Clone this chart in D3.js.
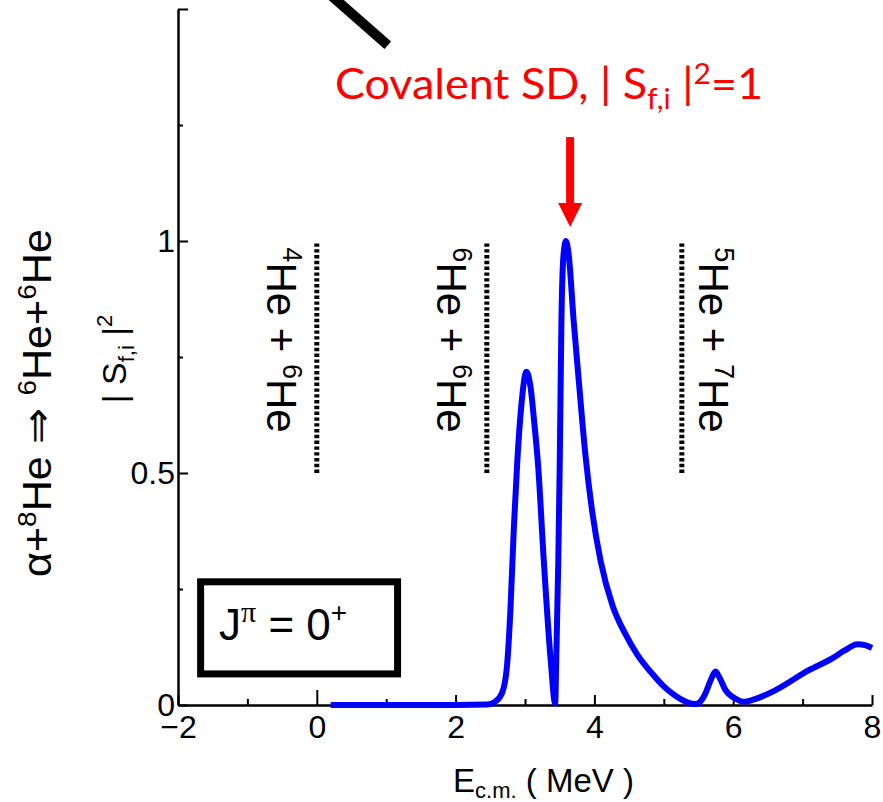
<!DOCTYPE html>
<html>
<head>
<meta charset="utf-8">
<script src="https://cdn.jsdelivr.net/npm/d3@7"></script>
<style>
  html, body { margin: 0; padding: 0; background: #fff; }
  svg { display: block; font-family: "Liberation Sans", Arial, sans-serif; }
</style>
</head>
<body>
<svg id="chart" width="883" height="802"></svg>
<script>
// ---------------- data ----------------
const energy = [0.2, 1.0, 2.0, 2.45, 2.57, 2.67, 2.74, 2.79, 2.84, 2.89, 2.95, 3.02, 3.08, 3.13, 3.19, 3.27, 3.37, 3.435,
  3.45, 3.48, 3.50, 3.525, 3.555, 3.59, 3.63, 3.70, 3.78, 3.87, 3.97, 4.09, 4.26, 4.45, 4.62, 4.83, 5.0, 5.12, 5.25, 5.35, 5.45,
  5.53, 5.60, 5.68, 5.745, 5.80, 5.89, 6.03, 6.15, 6.30, 6.61, 7.09, 7.42, 7.60, 7.79, 7.90, 8.0];
const sfi2 = [0, 0, 0, 0.001, 0.007, 0.026, 0.083, 0.205, 0.384, 0.528, 0.65, 0.718, 0.685, 0.614, 0.514, 0.313, 0.097, 0.003,
  0.097, 0.313, 0.514, 0.83, 0.97, 1.0, 0.97, 0.83, 0.69, 0.54, 0.415, 0.31, 0.215, 0.152, 0.108, 0.068, 0.040, 0.025, 0.012, 0.005, 0.002,
  0.008, 0.025, 0.055, 0.072, 0.06, 0.032, 0.014, 0.007, 0.012, 0.032, 0.075, 0.10, 0.117, 0.131, 0.129, 0.123];

const xMajorTicks = [-2, 0, 2, 4, 6, 8];
const xMinorTicks = [-1, 1, 3, 5, 7];
const yMajorTicks = [0, 0.5, 1, 1.5];
const yMinorTicks = [0.25, 0.75, 1.25];
const yTickLabels = ["0", "0.5", "1", ""];

// thresholds (MeV) with their channel labels
const thresholdE = [0, 2.45, 5.26];
const thresholdMass1 = ["4", "6", "5"];
const thresholdMass2 = ["6", "6", "7"];
const thresholdSide = [-1, -1, 1];
const thresholdRange = [0.5, 1.0];

// annotations in data coordinates
const arrowE = 3.65;
const arrowRange = [1.224, 1.03];
const pointerLine = [[0.115, 1.541], [1.023, 1.422]];
const jBox = [[-1.674, 0.2655], [1.164, 0.067]];

// ---------------- scales ----------------
const svg = d3.select("#chart");
const x = d3.scaleLinear().domain([-2, 8]).range([178, 872]);
const y = d3.scaleLinear().domain([0, 1.5]).range([705, 9]);

svg.append("rect").attr("width", 883).attr("height", 802).attr("fill", "#fff");

// ---------------- axes ----------------
const gx = svg.append("g").attr("transform", `translate(0,${y(0)})`);
gx.call(d3.axisBottom(x).tickValues(xMajorTicks).tickSizeInner(-10).tickSizeOuter(0).tickPadding(8)
  .tickFormat(d3.format("d")));
gx.append("g").call(d3.axisBottom(x).tickValues(xMinorTicks).tickSizeInner(-6).tickSizeOuter(0).tickFormat(""))
  .select(".domain").remove();
gx.selectAll(".tick").filter(d => d === 0).select("line").attr("y2", -15);

const gy = svg.append("g").attr("transform", `translate(${x(-2)},0)`);
gy.call(d3.axisLeft(y).tickValues(yMajorTicks).tickSizeInner(-10).tickSizeOuter(0).tickPadding(3)
  .tickFormat((d, i) => yTickLabels[i]));
gy.append("g").call(d3.axisLeft(y).tickValues(yMinorTicks).tickSizeInner(-5).tickSizeOuter(0).tickFormat(""))
  .select(".domain").remove();

svg.selectAll(".domain").attr("stroke", "#000").attr("stroke-width", 2.5);
svg.selectAll(".tick line").attr("stroke", "#000").attr("stroke-width", 2);
svg.selectAll(".tick text").attr("font-size", 32).attr("fill", "#000")
  .attr("font-family", "'Liberation Sans', Arial, sans-serif");
gx.selectAll(".tick text").attr("dy", "0.78em");
gy.selectAll(".tick text").attr("dy", "0.33em");

// ---------------- threshold lines ----------------
thresholdE.forEach((e, i) => {
  svg.append("line")
    .attr("x1", x(e)).attr("x2", x(e))
    .attr("y1", y(thresholdRange[0])).attr("y2", y(thresholdRange[1]))
    .attr("stroke", "#000").attr("stroke-width", 5).attr("stroke-dasharray", "3.4,2.4");
  const bx = thresholdSide[i] < 0 ? x(e) - 50 : x(e) + 17;
  const cy = 340;
  const t = svg.append("text")
    .attr("transform", `translate(${bx},${cy}) rotate(90)`)
    .attr("text-anchor", "middle").attr("font-size", 42).attr("fill", "#000");
  t.append("tspan").attr("font-size", 27).attr("dy", -16).text(thresholdMass1[i]);
  t.append("tspan").attr("dy", 16).text("He + ");
  t.append("tspan").attr("font-size", 27).attr("dy", -16).text(thresholdMass2[i]);
  t.append("tspan").attr("dy", 16).text("He");
});

// ---------------- curve ----------------
const pts = energy.map((e, i) => [e, sfi2[i]]);
svg.append("path")
  .datum(pts)
  .attr("fill", "none")
  .attr("stroke", "#0000ff")
  .attr("stroke-width", 6)
  .attr("stroke-linejoin", "round")
  .attr("d", d3.line().x(d => x(d[0])).y(d => y(d[1])).curve(d3.curveMonotoneX));

// ---------------- annotations ----------------
// black pointer line at top
svg.append("line")
  .attr("x1", x(pointerLine[0][0])).attr("y1", y(pointerLine[0][1]))
  .attr("x2", x(pointerLine[1][0])).attr("y2", y(pointerLine[1][1]))
  .attr("stroke", "#000").attr("stroke-width", 10);

// red arrow
const ax = x(arrowE);
const yTop = y(arrowRange[0]), yTip = y(arrowRange[1]);
svg.append("line").attr("x1", ax).attr("x2", ax).attr("y1", yTop).attr("y2", yTip - 20)
  .attr("stroke", "#ff0000").attr("stroke-width", 8);
svg.append("path")
  .attr("d", `M${ax - 12},${yTip - 24} L${ax + 12},${yTip - 24} L${ax},${yTip} Z`)
  .attr("fill", "#ff0000");

// red label
const red = svg.append("text")
  .attr("x", 335).attr("y", 99)
  .attr("font-family", "Lato, 'Open Sans', sans-serif")
  .attr("font-size", 42).attr("fill", "#ff0000")
  .attr("textLength", 428).attr("lengthAdjust", "spacingAndGlyphs");
red.append("tspan").text("Covalent SD, | S");
red.append("tspan").attr("font-size", 28).attr("dy", 10).text("f,i");
red.append("tspan").attr("dy", -10).text(" |");
red.append("tspan").attr("font-size", 28).attr("dy", -15).text("2");
red.append("tspan").attr("dy", 15).text("=1");

// J^pi box
svg.append("rect")
  .attr("x", x(jBox[0][0])).attr("y", y(jBox[0][1]))
  .attr("width", x(jBox[1][0]) - x(jBox[0][0]))
  .attr("height", y(jBox[1][1]) - y(jBox[0][1]))
  .attr("fill", "none").attr("stroke", "#000").attr("stroke-width", 7);
const jt = svg.append("text").attr("x", 219).attr("y", 640).attr("font-size", 44).attr("fill", "#000");
jt.append("tspan").text("J");
jt.append("tspan").attr("font-size", 30).attr("dy", -18).attr("font-family", "'Liberation Serif', serif").text("π");
jt.append("tspan").attr("dy", 18).text(" = 0");
jt.append("tspan").attr("font-size", 28).attr("dy", -18).text("+");

// ---------------- axis titles ----------------
const xt = svg.append("text").attr("x", 453).attr("y", 792).attr("font-size", 33).attr("fill", "#000");
xt.append("tspan").text("E");
xt.append("tspan").attr("font-size", 22).attr("dy", 6).text("c.m.");
xt.append("tspan").attr("dy", -6).text(" ( MeV )");

const yt = svg.append("text")
  .attr("transform", "translate(126,359) rotate(-90)")
  .attr("text-anchor", "middle").attr("font-size", 34).attr("fill", "#000");
yt.append("tspan").text("| S");
yt.append("tspan").attr("font-size", 22).attr("dy", 8).text("f,i");
yt.append("tspan").attr("dy", -8).text(" |");
yt.append("tspan").attr("font-size", 22).attr("dy", -14).text("2");

const ot = svg.append("text")
  .attr("transform", "translate(51,403) rotate(-90)")
  .attr("text-anchor", "middle").attr("font-size", 40).attr("fill", "#000")
  .attr("textLength", 348).attr("lengthAdjust", "spacingAndGlyphs");
ot.append("tspan").text("α+");
ot.append("tspan").attr("font-size", 26).attr("dy", -15).text("8");
ot.append("tspan").attr("dy", 15).text("He ⇒ ");
ot.append("tspan").attr("font-size", 26).attr("dy", -15).text("6");
ot.append("tspan").attr("dy", 15).text("He+");
ot.append("tspan").attr("font-size", 26).attr("dy", -15).text("6");
ot.append("tspan").attr("dy", 15).text("He");
</script>
</body>
</html>
